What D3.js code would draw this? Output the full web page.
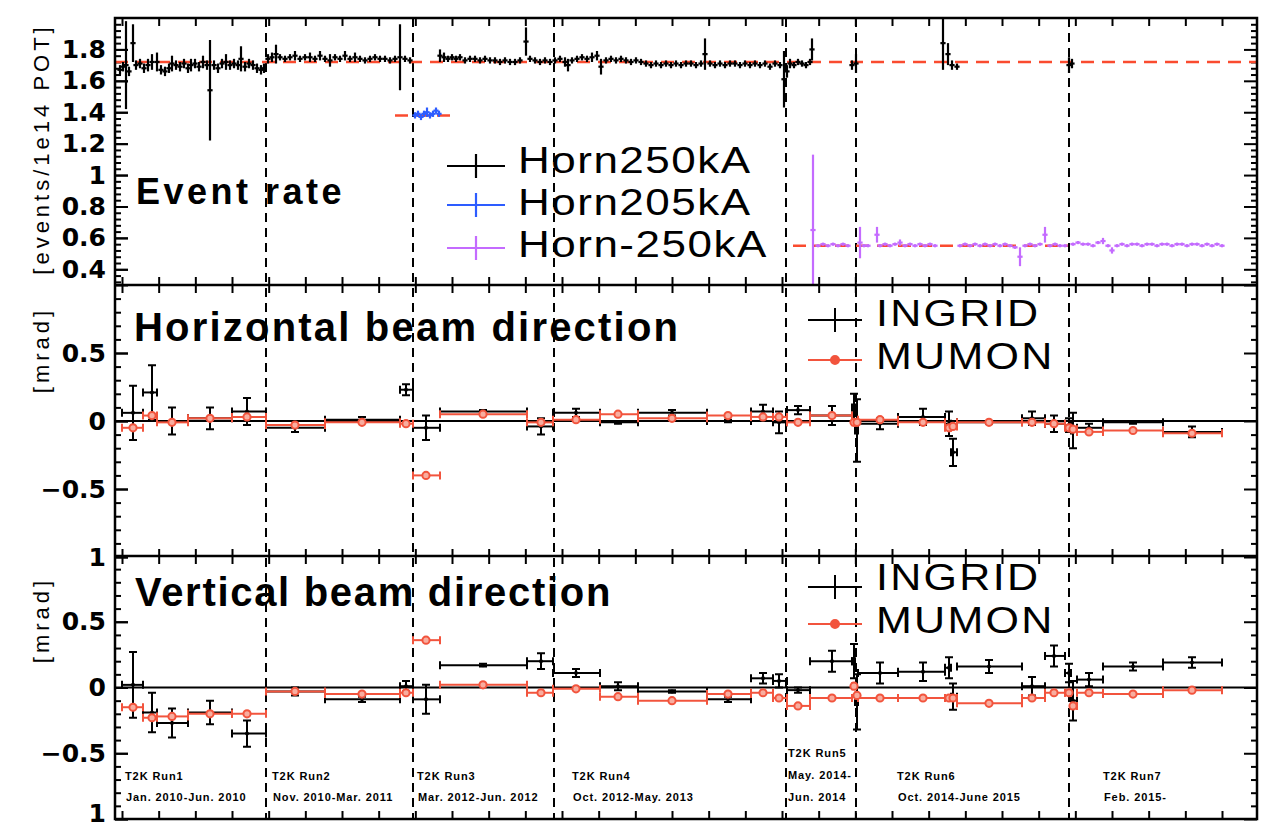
<!DOCTYPE html>
<html>
<head>
<meta charset="utf-8">
<script src="https://cdn.jsdelivr.net/npm/d3@7"></script>
<style>
  body { margin: 0; background: #ffffff; }
  svg { display: block; }
</style>
</head>
<body>
<svg id="chart" width="1271" height="831"></svg>
<script>
// ---------------------------------------------------------------------------
// Beam monitoring summary: event rate and beam direction per T2K run period.
// x values are beam-operation days (tick every 11 days).
// ---------------------------------------------------------------------------

// Event rate, horn current +250 kA
const horn250Day = [
  -0.6, 0.3, 1.2, 2.1, 3.3, 4.2, 5.4, 6.6, 7.8, 9.0, 10.5, 11.7, 12.9, 14.1, 15.0, 16.2, 17.4, 18.6, 19.8, 20.7,
  21.9, 23.1, 24.3, 25.5, 26.4, 27.6, 28.8, 30.0, 31.2, 32.4, 33.6, 34.8, 35.7, 36.9, 38.1, 39.3, 40.5, 41.7, 42.6,
  43.8, 45.0, 46.2, 47.4, 48.9, 50.4, 51.9, 53.4, 54.9, 56.4, 57.9, 59.4, 60.9, 62.4, 63.9, 65.4, 66.9, 68.4, 69.9,
  71.4, 72.9, 74.4, 75.9, 77.4, 78.9, 80.4, 81.9, 83.4, 84.9, 86.4,
  95.4, 96.6, 97.8, 99.0, 100.2, 101.4, 102.9, 104.4, 105.9, 107.4, 108.9, 110.4, 111.9, 113.4, 114.9, 116.4, 117.9,
  119.4, 121.2, 122.4, 123.9, 125.4, 126.9, 128.4,
  129.9, 131.4, 132.9, 133.8, 135.0, 136.5, 138.0, 139.5, 141.0, 142.5, 143.7, 145.2, 146.7, 148.2, 149.7, 151.2,
  152.7, 154.2, 155.7, 157.2, 158.7, 160.2, 161.7, 163.2, 164.7, 166.2, 167.7, 169.2, 170.7, 172.2, 173.7, 174.9,
  176.4, 177.9, 179.4, 180.9, 182.4, 183.9, 185.4, 186.9, 188.4, 189.9, 191.4, 192.9, 194.4, 195.9, 197.4,
  198.6, 199.5, 200.4, 201.6, 202.8, 204.0, 205.2, 206.4, 207.0, 219.0, 220.2,
  246.3, 247.8, 249.0, 250.5, 284.1, 285.0
];
const horn250Rate = [
  1.67, 1.69, 1.70, 1.66, 1.84, 1.70, 1.71, 1.68, 1.70, 1.72, 1.72, 1.67, 1.66, 1.68, 1.71, 1.70, 1.69, 1.71, 1.68, 1.70,
  1.71, 1.69, 1.72, 1.70, 1.54, 1.70, 1.68, 1.71, 1.72, 1.70, 1.71, 1.70, 1.74, 1.69, 1.71, 1.70, 1.68, 1.67, 1.68,
  1.74, 1.75, 1.77, 1.75, 1.74, 1.75, 1.76, 1.74, 1.75, 1.75, 1.74, 1.76, 1.74, 1.73, 1.75, 1.74, 1.76, 1.74, 1.75,
  1.74, 1.73, 1.74, 1.75, 1.74, 1.74, 1.73, 1.74, 1.75, 1.74, 1.73,
  1.76, 1.75, 1.74, 1.75, 1.74, 1.75, 1.73, 1.74, 1.74, 1.73, 1.74, 1.73, 1.73, 1.72, 1.73, 1.72, 1.72,
  1.73, 1.85, 1.74, 1.73, 1.72, 1.73, 1.72,
  1.73, 1.74, 1.72, 1.70, 1.73, 1.74, 1.75, 1.74, 1.75, 1.76, 1.69, 1.73, 1.74, 1.73, 1.74, 1.73,
  1.72, 1.73, 1.72, 1.71, 1.70, 1.71, 1.70, 1.71, 1.70, 1.71, 1.70, 1.71, 1.71, 1.70, 1.71, 1.77,
  1.71, 1.70, 1.71, 1.70, 1.71, 1.71, 1.70, 1.71, 1.70, 1.71, 1.70, 1.71, 1.69, 1.71, 1.70,
  1.61, 1.66, 1.71, 1.70, 1.72, 1.71, 1.70, 1.72, 1.80, 1.70, 1.71,
  1.84, 1.77, 1.70, 1.69, 1.70, 1.71
];
const horn250Err = [
  0.03, 0.03, 0.28, 0.03, 0.12, 0.03, 0.03, 0.03, 0.04, 0.05, 0.06, 0.03, 0.03, 0.03, 0.05, 0.03, 0.03, 0.03, 0.03, 0.04,
  0.03, 0.03, 0.04, 0.03, 0.32, 0.03, 0.03, 0.03, 0.05, 0.03, 0.03, 0.03, 0.08, 0.03, 0.03, 0.03, 0.03, 0.03, 0.03,
  0.03, 0.03, 0.06, 0.02, 0.02, 0.02, 0.03, 0.02, 0.02, 0.03, 0.02, 0.03, 0.02, 0.04, 0.02, 0.02, 0.03, 0.02, 0.03,
  0.02, 0.02, 0.02, 0.02, 0.02, 0.02, 0.02, 0.02, 0.21, 0.02, 0.02,
  0.04, 0.03, 0.02, 0.02, 0.02, 0.02, 0.02, 0.02, 0.02, 0.02, 0.02, 0.02, 0.02, 0.02, 0.02, 0.02, 0.02,
  0.02, 0.09, 0.02, 0.02, 0.02, 0.02, 0.02,
  0.02, 0.02, 0.03, 0.04, 0.02, 0.02, 0.02, 0.02, 0.03, 0.03, 0.05, 0.02, 0.02, 0.02, 0.02, 0.02,
  0.02, 0.02, 0.02, 0.02, 0.02, 0.02, 0.02, 0.02, 0.02, 0.02, 0.02, 0.02, 0.02, 0.02, 0.02, 0.10,
  0.02, 0.02, 0.02, 0.02, 0.02, 0.02, 0.02, 0.02, 0.02, 0.02, 0.02, 0.02, 0.02, 0.02, 0.02,
  0.18, 0.04, 0.03, 0.02, 0.02, 0.02, 0.02, 0.02, 0.07, 0.03, 0.06,
  0.17, 0.07, 0.03, 0.02, 0.05, 0.03
];

// Event rate, horn current 205 kA
const horn205Day  = [87.9, 88.8, 89.7, 90.6, 91.5, 92.4, 93.3, 94.2, 95.1];
const horn205Rate = [1.38, 1.39, 1.37, 1.39, 1.40, 1.38, 1.39, 1.41, 1.39];
const horn205Err  = [0.02, 0.02, 0.02, 0.02, 0.03, 0.02, 0.02, 0.02, 0.02];

// Event rate, horn current -250 kA (antineutrino mode)
const hornNeg250Day = [
  207.3, 208.8, 210.3, 211.8, 213.3, 214.8, 216.3, 217.8,
  221.4, 222.6, 223.8, 226.5, 227.4, 228.9, 230.4, 231.9, 233.4, 234.9, 236.4, 237.9, 239.4, 240.9, 242.4, 243.9,
  251.4, 252.9, 254.4, 255.9, 257.4, 258.9, 260.4, 261.9, 263.4, 264.9, 266.4, 267.9, 269.4, 270.9, 272.4, 273.9,
  275.4, 276.9, 278.4, 279.9, 281.4, 282.9,
  285.3, 286.8, 288.3, 289.8, 291.3, 292.8, 294.3, 295.8, 297.0, 298.5, 300.0, 301.5, 303.0, 304.5, 306.0, 307.5,
  309.0, 310.5, 312.0, 313.5, 315.0, 316.5, 318.0, 319.5, 321.0, 322.5, 324.0, 325.5, 327.0, 328.5, 330.0
];
const hornNeg250Rate = [
  0.65, 0.55, 0.56, 0.55, 0.56, 0.55, 0.56, 0.55,
  0.57, 0.55, 0.55, 0.62, 0.55, 0.56, 0.55, 0.56, 0.57, 0.55, 0.56, 0.55, 0.56, 0.55, 0.56, 0.55,
  0.55, 0.56, 0.55, 0.56, 0.55, 0.56, 0.55, 0.56, 0.55, 0.56, 0.55, 0.54, 0.48, 0.55, 0.56, 0.55,
  0.56, 0.62, 0.55, 0.56, 0.55, 0.55,
  0.56, 0.57, 0.56, 0.56, 0.55, 0.57, 0.58, 0.55, 0.52, 0.55, 0.56, 0.55, 0.56, 0.56, 0.55, 0.56,
  0.56, 0.55, 0.56, 0.56, 0.55, 0.56, 0.56, 0.55, 0.56, 0.56, 0.55, 0.56, 0.55, 0.56, 0.55
];
const hornNeg250Err = [
  0.48, 0.01, 0.01, 0.01, 0.01, 0.01, 0.01, 0.01,
  0.10, 0.01, 0.01, 0.05, 0.01, 0.01, 0.01, 0.01, 0.02, 0.01, 0.01, 0.01, 0.01, 0.01, 0.01, 0.01,
  0.01, 0.01, 0.01, 0.01, 0.01, 0.01, 0.01, 0.01, 0.01, 0.01, 0.01, 0.01, 0.06, 0.01, 0.01, 0.01,
  0.01, 0.05, 0.01, 0.01, 0.01, 0.01,
  0.01, 0.01, 0.01, 0.01, 0.01, 0.01, 0.02, 0.01, 0.02, 0.01, 0.01, 0.01, 0.01, 0.01, 0.01, 0.01,
  0.01, 0.01, 0.01, 0.01, 0.01, 0.01, 0.01, 0.01, 0.01, 0.01, 0.01, 0.01, 0.01, 0.01, 0.01
];

// Nominal event rate per horn setting (dashed reference lines)
const nominalRate     = [1.72, 1.38, 0.55];
const nominalRateFrom = [-2.1, 81.9, 201.3];
const nominalRateTo   = [340.5, 100.5, 283.8];

// Beam direction bins (shared by INGRID and MUMON)
const binStart  = [0, 6.3, 10.5, 19.8, 33.0, 43.2, 60.9, 83.4, 87.3, 95.4, 121.5, 129.3, 143.4, 154.8, 175.5, 188.7,
                   195.3, 199.5, 206.4, 219.0, 219.9, 220.8, 232.8, 246.9, 248.7, 250.5, 270.0, 276.9, 282.9, 284.7,
                   286.5, 294.3, 312.3];
const binEnd    = [6.3, 10.5, 19.8, 33.0, 43.2, 60.9, 83.4, 87.3, 95.4, 121.5, 129.3, 143.4, 154.8, 175.5, 188.7, 195.3,
                   199.5, 206.4, 219.0, 219.9, 220.8, 232.8, 246.9, 248.7, 250.5, 270.0, 276.9, 282.9, 284.7, 286.5,
                   294.3, 312.3, 330.0];
const binCenter = [3.3, 9.0, 15.0, 26.4, 37.5, 51.9, 72.0, 85.2, 91.2, 108.3, 125.7, 136.2, 148.8, 165.0, 181.8, 192.3,
                   197.1, 202.8, 213.0, 219.6, 220.5, 227.4, 240.3, 248.1, 249.3, 260.1, 273.0, 279.6, 284.1, 285.3,
                   290.1, 303.3, 321.0];

// Horizontal beam direction [mrad]
const ingridHoriz    = [0.06, 0.21, 0.00, 0.02, 0.07, -0.05, 0.01, 0.23, -0.05, 0.07, -0.04, 0.06, -0.01, 0.06, 0.00, 0.07,
                        -0.01, 0.08, 0.04, 0.10, -0.07, -0.02, 0.03, -0.02, -0.23, -0.01, 0.02, -0.02, -0.03, -0.07,
                        -0.05, -0.01, -0.08];
const ingridHorizErr = [0.20, 0.20, 0.10, 0.08, 0.10, 0.03, 0.02, 0.04, 0.09, 0.01, 0.06, 0.03, 0.01, 0.02, 0.01, 0.05,
                        0.08, 0.03, 0.07, 0.10, 0.23, 0.04, 0.06, 0.09, 0.10, 0.01, 0.05, 0.06, 0.05, 0.13,
                        0.03, 0.01, 0.04];
const mumonHoriz     = [-0.05, 0.04, -0.01, 0.02, 0.03, -0.03, -0.01, -0.02, -0.40, 0.05, -0.01, 0.01, 0.05, 0.02, 0.04,
                        0.03, 0.03, -0.01, 0.04, -0.01, -0.01, 0.01, -0.01, -0.05, -0.04, -0.01, -0.01, -0.02, -0.05,
                        -0.06, -0.08, -0.07, -0.09];

// Vertical beam direction [mrad]
const ingridVert    = [0.02, -0.19, -0.27, -0.19, -0.35, -0.03, -0.09, 0.01, -0.09, 0.17, 0.20, 0.11, 0.01, -0.03, -0.09,
                       0.07, 0.05, -0.02, 0.20, 0.20, -0.11, 0.11, 0.12, 0.15, -0.07, 0.16, 0.01, 0.24, 0.11, -0.10,
                       0.06, 0.16, 0.19];
const ingridVertErr = [0.25, 0.15, 0.11, 0.09, 0.10, 0.03, 0.02, 0.04, 0.11, 0.01, 0.06, 0.03, 0.03, 0.01, 0.02,
                       0.04, 0.05, 0.02, 0.08, 0.13, 0.21, 0.08, 0.07, 0.08, 0.10, 0.05, 0.07, 0.08, 0.07, 0.15,
                       0.05, 0.03, 0.04];
const mumonVert     = [-0.15, -0.23, -0.22, -0.20, -0.20, -0.03, -0.05, -0.04, 0.36, 0.02, -0.04, -0.01, -0.07, -0.10,
                       -0.05, -0.04, -0.08, -0.14, -0.08, 0.01, -0.06, -0.08, -0.08, -0.08, -0.08, -0.12, -0.08, -0.04,
                       -0.04, -0.14, -0.04, -0.05, -0.02];

// Run periods
const runEdges   = [43.2, 87.3, 129.6, 199.2, 220.2, 284.1];
const runLabelAt = [0.9, 45.0, 88.5, 135.0, 199.8, 232.5, 294.3];
const runLabels  = [
  ["T2K Run1", "Jan. 2010-Jun. 2010"],
  ["T2K Run2", "Nov. 2010-Mar. 2011"],
  ["T2K Run3", "Mar. 2012-Jun. 2012"],
  ["T2K Run4", "Oct. 2012-May. 2013"],
  ["T2K Run5", "May. 2014-", "Jun. 2014"],
  ["T2K Run6", "Oct. 2014-June 2015"],
  ["T2K Run7", "Feb. 2015-"]
];

// Axis ticks and labels
const dayTickStep     = 11;
const rateTickValues  = [0.4, 0.6, 0.8, 1.0, 1.2, 1.4, 1.6, 1.8];
const rateTickLabels  = ["0.4", "0.6", "0.8", "1", "1.2", "1.4", "1.6", "1.8"];
const dirTickValues   = [-1, -0.5, 0, 0.5];
const dirTickLabels   = ["1", "\u22120.5", "0", "0.5"];

// Legends
const hornLegend  = ["Horn250kA", "Horn205kA", "Horn-250kA"];
const beamLegend  = ["INGRID", "MUMON"];

// ---------------------------------------------------------------------------
const COLORS = {
  horn250: "#000000",
  horn205: "#2d5cff",
  hornNeg: "#c46bff",
  nominal: "#fa4b2f",
  mumon:   "#f2543d",
  mumonFill: "#f8ad9f"
};

const svg = d3.select("#chart");
svg.append("rect").attr("width", 1271).attr("height", 831).attr("fill", "#ffffff");

const X0 = 115, X1 = 1257;
const x = d3.scaleLinear().domain([-2.1, 340.5]).range([X0, X1]);

const panels = [
  { top: 18,  bottom: 285, y: d3.scaleLinear().domain([0.3, 2.0]).range([285, 18]) },
  { top: 285, bottom: 557, y: d3.scaleLinear().domain([-1, 1]).range([557, 285]) },
  { top: 556, bottom: 819, y: d3.scaleLinear().domain([-1, 1]).range([819, 556]) }
];

const defs = svg.append("defs");
panels.forEach((p, i) => {
  defs.append("clipPath").attr("id", "clip" + i)
    .append("rect").attr("x", X0).attr("y", p.top).attr("width", X1 - X0).attr("height", p.bottom - p.top);
});

const dayTicks = d3.range(0, 331, dayTickStep);

// ---- axes --------------------------------------------------------------
function styleAxis(g) {
  g.select(".domain").remove();
  g.selectAll(".tick line").attr("stroke", "#000").attr("stroke-width", 2);
}

panels.forEach((p, i) => {
  const yS = p.y;
  const major = i === 0 ? rateTickValues : [-1, -0.5, 0, 0.5, 1];
  const minor = i === 0
    ? d3.range(0.32, 1.99, 0.04).filter(v => Math.abs(v / 0.2 - Math.round(v / 0.2)) > 0.01)
    : d3.range(-0.9, 0.95, 0.1).filter(v => Math.abs(v / 0.5 - Math.round(v / 0.5)) > 0.01);
  const labelVals = i === 0 ? rateTickValues : dirTickValues;
  const labelTxt  = i === 0 ? rateTickLabels : dirTickLabels;

  // left: labelled major ticks
  svg.append("g").attr("transform", `translate(${X0},0)`)
    .call(d3.axisLeft(yS).tickValues(labelVals).tickSizeInner(-13).tickSizeOuter(0).tickPadding(9)
      .tickFormat((d, k) => labelTxt[k]))
    .call(styleAxis)
    .call(g => g.selectAll("text")
      .attr("font-family", "'DejaVu Sans', sans-serif").attr("font-weight", "bold")
      .attr("font-size", 25).attr("fill", "#000"))
    // the lowest label of the bottom panel sits on the page edge: nudge it up
    .call(g => { if (i === 2) g.selectAll(".tick").filter(d => d === -1).select("text").attr("dy", "0.1em"); });
  svg.append("g").attr("transform", `translate(${X0},0)`)
    .call(d3.axisLeft(yS).tickValues(major).tickSize(-13).tickFormat(""))
    .call(styleAxis);
  svg.append("g").attr("transform", `translate(${X0},0)`)
    .call(d3.axisLeft(yS).tickValues(minor).tickSize(-6).tickFormat(""))
    .call(styleAxis);
  // right
  svg.append("g").attr("transform", `translate(${X1},0)`)
    .call(d3.axisRight(yS).tickValues(major).tickSize(-13).tickFormat(""))
    .call(styleAxis);
  svg.append("g").attr("transform", `translate(${X1},0)`)
    .call(d3.axisRight(yS).tickValues(minor).tickSize(-6).tickFormat(""))
    .call(styleAxis);
  // top and bottom day ticks
  svg.append("g").attr("transform", `translate(0,${p.top})`)
    .call(d3.axisTop(x).tickValues(dayTicks).tickSize(-8).tickFormat(""))
    .call(styleAxis);
  svg.append("g").attr("transform", `translate(0,${p.bottom})`)
    .call(d3.axisBottom(x).tickValues(dayTicks).tickSize(-8).tickFormat(""))
    .call(styleAxis);
});

// zero lines
[panels[1], panels[2]].forEach(p => {
  svg.append("line").attr("x1", X0).attr("x2", X1).attr("y1", p.y(0)).attr("y2", p.y(0))
    .attr("stroke", "#000").attr("stroke-width", 2);
});

// run boundaries
svg.append("g").selectAll("line").data(runEdges).join("line")
  .attr("x1", d => x(d)).attr("x2", d => x(d))
  .attr("y1", panels[0].top).attr("y2", panels[2].bottom)
  .attr("stroke", "#000").attr("stroke-width", 2).attr("stroke-dasharray", "9,6");

// ---- panel 1: event rate --------------------------------------------------
const p1 = svg.append("g").attr("clip-path", "url(#clip0)");
const y1 = panels[0].y;

p1.append("g").selectAll("line").data(nominalRate).join("line")
  .attr("x1", (d, i) => x(nominalRateFrom[i])).attr("x2", (d, i) => x(nominalRateTo[i]))
  .attr("y1", d => y1(d)).attr("y2", d => y1(d))
  .attr("stroke", COLORS.nominal).attr("stroke-width", 2.5).attr("stroke-dasharray", "13,8");

function drawRate(days, rates, errs, color) {
  const g = p1.append("g").attr("stroke", color).attr("stroke-width", 2.2);
  const idx = d3.range(days.length);
  g.selectAll("line.v").data(idx).join("line").attr("class", "v")
    .attr("x1", i => x(days[i])).attr("x2", i => x(days[i]))
    .attr("y1", i => y1(rates[i] - errs[i])).attr("y2", i => y1(rates[i] + errs[i]));
  g.selectAll("line.h").data(idx).join("line").attr("class", "h")
    .attr("x1", i => x(days[i]) - 2.6).attr("x2", i => x(days[i]) + 2.6)
    .attr("y1", i => y1(rates[i])).attr("y2", i => y1(rates[i]));
}
drawRate(horn250Day, horn250Rate, horn250Err, COLORS.horn250);
drawRate(horn205Day, horn205Rate, horn205Err, COLORS.horn205);
drawRate(hornNeg250Day, hornNeg250Rate, hornNeg250Err, COLORS.hornNeg);

// ---- panels 2 & 3: beam direction ------------------------------------------
function drawDirection(panelIndex, ingrid, ingridErr, mumon) {
  const yS = panels[panelIndex].y;
  const g = svg.append("g").attr("clip-path", `url(#clip${panelIndex})`);
  const idx = d3.range(binCenter.length);
  const cap = 4;

  // INGRID
  const gi = g.append("g").attr("stroke", "#000").attr("stroke-width", 2);
  gi.selectAll("line.h").data(idx).join("line").attr("class", "h")
    .attr("x1", i => x(binStart[i])).attr("x2", i => x(binEnd[i]))
    .attr("y1", i => yS(ingrid[i])).attr("y2", i => yS(ingrid[i]));
  gi.selectAll("line.v").data(idx).join("line").attr("class", "v")
    .attr("x1", i => x(binCenter[i])).attr("x2", i => x(binCenter[i]))
    .attr("y1", i => yS(ingrid[i] - ingridErr[i])).attr("y2", i => yS(ingrid[i] + ingridErr[i]));
  gi.selectAll("path.caps").data(idx).join("path").attr("class", "caps").attr("fill", "none")
    .attr("d", i => {
      const cx = x(binCenter[i]), lo = yS(ingrid[i] - ingridErr[i]), hi = yS(ingrid[i] + ingridErr[i]);
      const cy = yS(ingrid[i]), xa = x(binStart[i]), xb = x(binEnd[i]);
      return `M${cx - cap},${lo}H${cx + cap}M${cx - cap},${hi}H${cx + cap}` +
             `M${xa},${cy - cap}V${cy + cap}M${xb},${cy - cap}V${cy + cap}`;
    });
  gi.selectAll("circle").data(idx).join("circle")
    .attr("cx", i => x(binCenter[i])).attr("cy", i => yS(ingrid[i])).attr("r", 2)
    .attr("fill", "#000").attr("stroke", "none");

  // MUMON
  const gm = g.append("g").attr("stroke", COLORS.mumon).attr("stroke-width", 2);
  gm.selectAll("line.h").data(idx).join("line").attr("class", "h")
    .attr("x1", i => x(binStart[i])).attr("x2", i => x(binEnd[i]))
    .attr("y1", i => yS(mumon[i])).attr("y2", i => yS(mumon[i]));
  gm.selectAll("path.caps").data(idx).join("path").attr("class", "caps").attr("fill", "none")
    .attr("d", i => {
      const cy = yS(mumon[i]), xa = x(binStart[i]), xb = x(binEnd[i]);
      return `M${xa},${cy - cap}V${cy + cap}M${xb},${cy - cap}V${cy + cap}`;
    });
  gm.selectAll("circle").data(idx).join("circle")
    .attr("cx", i => x(binCenter[i])).attr("cy", i => yS(mumon[i])).attr("r", 3.6)
    .attr("fill", COLORS.mumonFill);
}
drawDirection(1, ingridHoriz, ingridHorizErr, mumonHoriz);
drawDirection(2, ingridVert, ingridVertErr, mumonVert);

// ---- frame ----------------------------------------------------------------
svg.append("rect").attr("x", X0).attr("y", panels[0].top)
  .attr("width", X1 - X0).attr("height", panels[2].bottom - panels[0].top)
  .attr("fill", "none").attr("stroke", "#000").attr("stroke-width", 2.5);
[panels[0].bottom, panels[2].top].forEach(yy => {
  svg.append("line").attr("x1", X0).attr("x2", X1).attr("y1", yy).attr("y2", yy)
    .attr("stroke", "#000").attr("stroke-width", 2.5);
});

// ---- text -----------------------------------------------------------------
const SANS = "'Liberation Sans', Arial, sans-serif";

function title(txt, tx, ty, size, spacing) {
  svg.append("text").attr("x", tx).attr("y", ty).text(txt)
    .attr("font-family", SANS).attr("font-weight", "bold").attr("font-size", size)
    .attr("letter-spacing", spacing).attr("fill", "#000");
}
title("Event rate", 136, 204, 36, 3.5);
title("Horizontal beam direction", 134, 341, 40, 2.2);
title("Vertical beam direction", 135, 606, 40, 1.7);

function yTitle(txt, cy) {
  svg.append("text").attr("transform", `translate(41,${cy}) rotate(-90)`)
    .attr("text-anchor", "middle").attr("dominant-baseline", "central")
    .attr("font-family", SANS).attr("font-size", 22).attr("letter-spacing", 4)
    .attr("fill", "#000").text(txt);
}
yTitle("[events/1e14 POT]", 149);
yTitle("[mrad]", 350);
yTitle("[mrad]", 620);

// Legend text: wide glyphs, slightly compressed vertically so stacked lines do not collide
function legendText(name, tx, ty, size, spacing, squash) {
  svg.append("text").attr("transform", `translate(${tx},${ty}) scale(1,${squash})`)
    .attr("font-family", SANS).attr("font-size", size).attr("letter-spacing", spacing)
    .attr("fill", "#000").text(name);
}

// horn legend
const hornColors = [COLORS.horn250, COLORS.horn205, COLORS.hornNeg];
const hornBase = [173, 215, 257];
const hornMarkY = [166, 205, 248];
hornLegend.forEach((name, i) => {
  const ly = hornMarkY[i];
  const g = svg.append("g").attr("stroke", hornColors[i]).attr("stroke-width", 2.2);
  g.append("line").attr("x1", 447).attr("x2", 505).attr("y1", ly).attr("y2", ly);
  g.append("line").attr("x1", 476).attr("x2", 476).attr("y1", ly - 12).attr("y2", ly + 12);
  legendText(name, 518, hornBase[i], 44, 1.5, 0.84);
});

// INGRID / MUMON legends
function beamLegendAt(baselines, markY) {
  const gI = svg.append("g").attr("stroke", "#000").attr("stroke-width", 2);
  gI.append("line").attr("x1", 808).attr("x2", 862).attr("y1", markY[0]).attr("y2", markY[0]);
  gI.append("line").attr("x1", 835).attr("x2", 835).attr("y1", markY[0] - 12).attr("y2", markY[0] + 12);
  const gM = svg.append("g").attr("stroke", COLORS.mumon).attr("stroke-width", 2);
  gM.append("line").attr("x1", 808).attr("x2", 862).attr("y1", markY[1]).attr("y2", markY[1]);
  gM.append("circle").attr("cx", 835).attr("cy", markY[1]).attr("r", 4).attr("fill", COLORS.mumon);
  beamLegend.forEach((name, i) => legendText(name, 876, baselines[i], 43, 2.3, 0.86));
}
beamLegendAt([326, 369], [320, 360]);
beamLegendAt([590, 633], [587, 624]);

// run labels
runLabels.forEach((lines, i) => {
  const base = lines.length === 3 ? [757, 779, 801] : [780, 801];
  svg.append("text")
    .attr("font-family", SANS).attr("font-weight", "bold").attr("font-size", 11)
    .attr("letter-spacing", 0.9).attr("fill", "#000")
    .selectAll("tspan").data(lines).join("tspan")
    .attr("x", (t, k) => x(runLabelAt[i]) + (k > 0 && lines.length === 2 ? 1 : 0))
    .attr("y", (t, k) => base[k]).text(t => t);
});
</script>
</body>
</html>
